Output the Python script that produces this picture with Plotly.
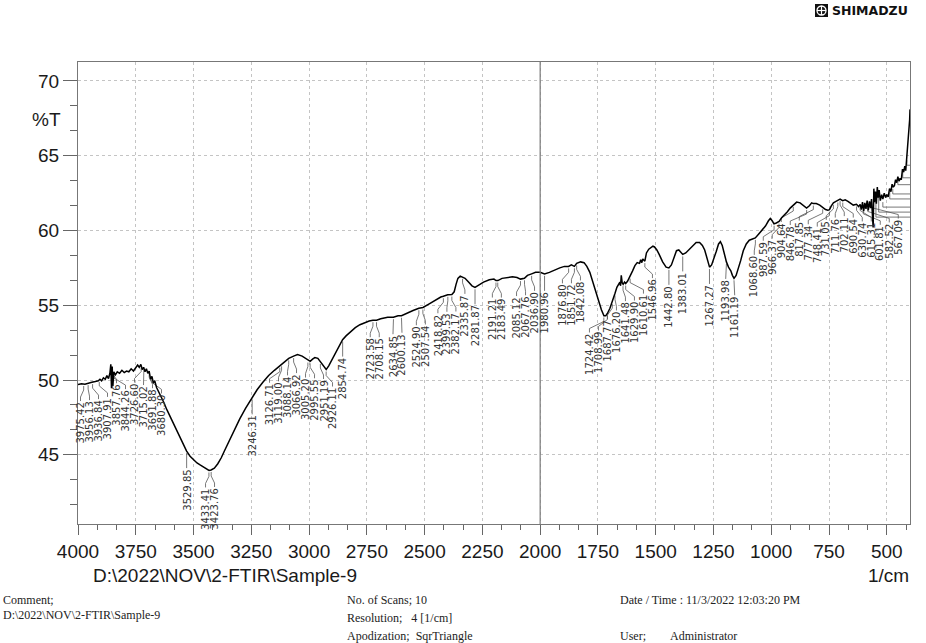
import numpy as np
import plotly.graph_objects as go

# ------------------------------------------------------------------ data
wavenumber = [
    4000, 3985, 3970, 3955, 3940, 3925, 3912, 3905, 3898, 3890,
    3882, 3875, 3868, 3862, 3858, 3855, 3852, 3849, 3845, 3838,
    3830, 3820, 3810, 3800, 3790, 3780, 3770, 3760, 3750, 3742,
    3735, 3728, 3722, 3716, 3710, 3704, 3698, 3692, 3686, 3680,
    3674, 3668, 3660,
    3650, 3640, 3630, 3615, 3600, 3585, 3570, 3555, 3540, 3530,
    3515, 3500, 3485, 3470, 3455, 3440, 3433, 3424, 3410, 3395,
    3380, 3365, 3350, 3330, 3300, 3275, 3250, 3225, 3200, 3175,
    3150, 3127, 3119, 3100, 3088, 3067, 3050,
    3030, 3015, 3005, 2995, 2985, 2975, 2962, 2951, 2940, 2926,
    2915, 2900, 2885, 2870, 2855, 2840, 2820, 2800, 2780, 2760,
    2740, 2724, 2708, 2690, 2660, 2635, 2615, 2600, 2575, 2550,
    2525, 2507, 2480, 2455, 2430, 2419, 2400, 2382, 2372, 2364,
    2356, 2346, 2336, 2325, 2310, 2295, 2282, 2265, 2245, 2220,
    2200, 2191, 2183, 2165, 2145, 2120, 2100, 2085, 2068, 2055,
    2037, 2020, 2000,
    1981, 1960, 1940, 1915, 1895, 1877, 1865, 1852, 1842, 1825,
    1810, 1798, 1785, 1772, 1758, 1745, 1735, 1724, 1716, 1709,
    1698, 1688, 1676, 1668, 1660, 1655, 1652, 1649, 1645, 1641,
    1635, 1630, 1622, 1611, 1600, 1590, 1580, 1570, 1565, 1560,
    1556, 1547, 1540, 1530, 1520, 1512, 1505, 1495, 1485, 1470,
    1455, 1443, 1432, 1422, 1410, 1400, 1390, 1383, 1370, 1355,
    1340, 1325, 1310, 1298, 1288, 1278, 1267, 1258, 1248, 1238,
    1228, 1220, 1212, 1204, 1194, 1185, 1175, 1168, 1161, 1152,
    1143, 1132, 1121, 1108, 1095, 1080, 1069,
    1055, 1040, 1025, 1012, 1004, 996, 988, 978, 966, 955,
    942, 930, 918, 905, 890, 875, 860, 847, 835, 825,
    818, 805, 790, 777, 765, 755, 748, 740, 731, 720,
    712, 702, 691, 680, 668, 655, 645, 631, 622,
    615, 610, 605, 600, 595, 590, 585, 580, 575, 570,
    566, 562, 559, 556, 553, 549, 545, 541, 537, 533,
    528, 522, 517, 511, 505, 500, 494, 488, 482, 477,
    472, 467, 462, 457, 452, 447, 442, 437, 432, 427,
    422, 418, 414, 410, 407, 404, 401, 399.5,
]
transmittance = [
    49.70, 49.75, 49.72, 49.80, 49.85, 49.90, 49.95, 50.05, 49.95, 50.15,
    50.05, 50.30, 50.10, 50.45, 51.05, 49.45, 50.90, 49.60, 50.55, 50.35,
    50.55, 50.45, 50.65, 50.50, 50.60, 50.55, 50.75, 50.60, 50.80, 51.00,
    50.85, 51.05, 50.70, 50.85, 50.55, 50.75, 50.45, 50.60, 50.05, 50.25,
    49.80, 49.95, 49.50,
    49.20, 48.90, 48.55, 48.00, 47.50, 47.00, 46.50, 46.00, 45.55, 45.25,
    44.90, 44.65, 44.45, 44.30, 44.15, 44.00, 43.95, 43.98, 44.10, 44.40,
    44.80, 45.30, 45.80, 46.50, 47.40, 48.10, 48.75, 49.35, 49.85, 50.30,
    50.65, 50.95, 51.05, 51.30, 51.45, 51.60, 51.70,
    51.60, 51.45, 51.30, 51.25, 51.40, 51.50, 51.45, 51.20, 50.95, 50.70,
    50.95, 51.40, 51.90, 52.35, 52.70, 52.95, 53.25, 53.50, 53.70, 53.85,
    53.95, 54.00, 54.00, 54.10, 54.20, 54.20, 54.30, 54.30, 54.50, 54.65,
    54.80, 54.85, 55.10, 55.35, 55.55, 55.60, 55.70, 55.72, 55.90, 56.40,
    56.80, 56.95, 56.90, 56.80, 56.55, 56.30, 56.20, 56.35, 56.55, 56.70,
    56.75, 56.65, 56.65, 56.80, 56.85, 56.90, 56.85, 56.75, 56.80, 57.00,
    57.10, 57.20, 57.20,
    57.10, 57.20, 57.35, 57.50, 57.60, 57.60, 57.70, 57.60, 57.80, 57.90,
    57.85, 57.60, 57.20, 56.60, 55.80, 55.20, 54.70, 54.30, 54.30, 54.45,
    54.80, 55.20, 55.80, 56.20, 56.40, 56.55, 56.30, 57.00, 56.50, 56.40,
    56.55, 56.45, 56.60, 56.90, 57.30, 57.65, 57.85, 57.80, 58.05, 57.85,
    58.10, 57.95, 58.50, 58.75, 58.90, 58.95, 58.90, 58.70, 58.40, 57.90,
    57.55, 57.50, 57.70, 58.20, 58.65, 58.70, 58.55, 58.40, 58.50, 58.75,
    59.00, 59.20, 59.20, 59.00, 58.70, 58.10, 57.55, 57.70, 58.10, 58.60,
    59.10, 59.25, 59.00, 58.50, 57.90, 57.55, 57.30, 57.00, 56.80, 57.00,
    57.40, 58.00, 58.65, 59.10, 59.35, 59.45, 59.50,
    59.75, 60.00, 60.30, 60.65, 60.80, 60.65, 60.45, 60.50, 60.60, 60.85,
    61.05, 61.25, 61.50, 61.70, 61.90, 61.85, 61.65, 61.50, 61.65, 61.85,
    61.80, 61.80, 61.70, 61.55, 61.40, 61.35, 61.40, 61.65, 61.85, 61.95,
    62.00, 62.10, 62.00, 62.05, 61.95, 61.80, 61.70, 61.75, 61.60,
    61.75, 61.40, 61.90, 61.30, 61.85, 61.45, 62.00, 61.35, 61.95, 61.50,
    62.10, 61.20, 60.20, 62.80, 61.90, 62.60, 61.80, 62.90, 62.20, 62.70,
    62.00, 62.40, 62.10, 62.50, 62.20, 62.40, 62.25, 62.80, 62.60, 63.10,
    62.90, 63.00, 63.40, 63.20, 63.60, 63.30, 63.50, 63.40, 64.10, 63.90,
    64.30, 64.00, 64.80, 65.20, 65.80, 66.50, 67.40, 68.10,
]

peak_wavenumbers = [
    3975.42, 3956.13, 3936.84, 3907.91, 3857.76, 3844.26, 3726.60, 3715.02,
    3691.88, 3680.30, 3529.85, 3433.41, 3423.76, 3246.31, 3126.71, 3119.00,
    3088.14, 3066.92, 3005.20, 2995.55, 2951.19, 2926.11, 2854.74, 2723.58,
    2708.15, 2634.85, 2600.13, 2524.90, 2507.54, 2418.82, 2399.53, 2382.17,
    2335.87, 2281.87, 2191.21, 2183.49, 2085.12, 2067.76, 2036.90, 1980.96,
    1876.80, 1851.72, 1842.08, 1724.42, 1708.99, 1687.77, 1676.20, 1641.48,
    1629.90, 1610.61, 1546.96, 1442.80, 1383.01, 1267.27, 1193.98, 1161.19,
    1068.60, 987.59, 966.37, 904.64, 846.78, 817.85, 777.34, 748.41,
    731.05, 711.76, 702.11, 690.54, 630.74, 615.31, 601.81, 582.52, 567.09,
]
# peaks whose labels fall beyond the right edge of the plot
offscale_peak_wavenumbers = [547.0, 535.0, 517.0, 487.0, 474.0, 452.0, 431.0, 413.0]

x_tick_step = 250
y_tick_step = 5

x_axis_title = r"D:\2022\NOV\2-FTIR\Sample-9"
x_unit = "1/cm"
y_unit = "%T"
footer_left = ["Comment;", r"D:\2022\NOV\2-FTIR\Sample-9"]
footer_mid = ["No. of Scans; 10", "Resolution;&nbsp;&nbsp;&nbsp;4 [1/cm]",
              "Apodization;&nbsp;&nbsp;SqrTriangle"]
footer_right = ["Date / Time : 11/3/2022 12:03:20 PM",
                "User;&nbsp;&nbsp;&nbsp;&nbsp;&nbsp;&nbsp;&nbsp;&nbsp;Administrator"]
brand = "SHIMADZU"

# ------------------------------------------------------------------ geometry
W, H = 926, 643
ML, MR, MT, MB = 78, 16, 62, 119
PW, PH = W - ML - MR, H - MT - MB
X0, X1 = 4000.0, 399.5
Y0, Y1 = 40.37, 71.27


def wx_to_px(w):
    return ML + (X0 - w) / (X0 - X1) * PW


def px_to_wx(p):
    return X0 - (p - ML) / PW * (X0 - X1)


def t_to_py(t):
    return MT + (Y1 - t) / (Y1 - Y0) * PH


def py_to_t(p):
    return Y1 - (p - MT) / PH * (Y1 - Y0)


def paper_x(p):
    return (p - ML) / PW


def paper_y(p):
    return (H - MB - p) / PH


wn_arr = np.array(wavenumber, dtype=float)
t_arr = np.array(transmittance, dtype=float)


def curve_at(w):
    return float(np.interp(w, wn_arr[::-1], t_arr[::-1]))


def spread(targets, gap, lo, hi):
    clusters = [[t] for t in targets]

    def start_of(c):
        n = len(c)
        s = float(np.mean(c)) - (n - 1) / 2 * gap
        return min(max(s, lo), hi - (n - 1) * gap)

    changed = True
    while changed:
        changed = False
        i = 0
        while i < len(clusters) - 1:
            a, b = clusters[i], clusters[i + 1]
            if start_of(a) + len(a) * gap > start_of(b) + 1e-9:
                clusters[i] = a + b
                del clusters[i + 1]
                changed = True
            else:
                i += 1
    out = []
    for c in clusters:
        s = start_of(c)
        out += [s + k * gap for k in range(len(c))]
    return out


# ------------------------------------------------------------------ figure
fig = go.Figure()

# peak label leaders
peak_px = [wx_to_px(w) for w in peak_wavenumbers]
label_px = spread(peak_px, 9.0, 80.5, 905)
lx, ly = [], []
annotations = []
for w, xp, xl in zip(peak_wavenumbers, peak_px, label_px):
    yc = t_to_py(curve_at(w))
    pts = [(xp, yc + 2), (xp, yc + 6), (xl, yc + 13), (xl, yc + 17)]
    for px_, py_ in pts:
        lx.append(px_to_wx(px_))
        ly.append(py_to_t(py_))
    lx.append(None)
    ly.append(None)
    annotations.append(dict(
        x=px_to_wx(xl), y=py_to_t(yc + 17.5), xref="x", yref="y",
        text=f"{w:.2f}", showarrow=False, textangle=-90,
        xanchor="center", yanchor="top", borderpad=0,
        font=dict(family="DejaVu Sans, Liberation Sans", size=10, color="#333333"),
    ))

# leaders of peaks whose labels are outside the plot (nested brackets)
prev_level = -1e9
for w in offscale_peak_wavenumbers[::-1]:
    xp = wx_to_px(w)
    yc = t_to_py(curve_at(w))
    level = max(yc + 8, prev_level + 5)
    prev_level = level
    for px_, py_ in [(xp, yc + 3), (xp, level), (W, level)]:
        lx.append(px_to_wx(px_))
        ly.append(py_to_t(py_))
    lx.append(None)
    ly.append(None)

fig.add_trace(go.Scatter(
    x=lx, y=ly, mode="lines", line=dict(color="#555555", width=0.8),
    hoverinfo="skip", showlegend=False,
))

fig.add_trace(go.Scatter(
    x=wavenumber, y=transmittance, mode="lines",
    line=dict(color="#000000", width=1.5), hoverinfo="skip", showlegend=False,
))

axis_font = dict(family="Liberation Sans, Arial", size=19, color="#1a1a1a")

fig.update_xaxes(
    range=[X0, X1], tickmode="linear", tick0=0, dtick=x_tick_step,
    ticks="outside", ticklen=10, tickwidth=1, tickcolor="#666666",
    showline=True, linecolor="#777777", linewidth=1, mirror=True,
    showgrid=True, gridcolor="#c4c4c4", griddash="dot", gridwidth=1,
    zeroline=False, tickfont=axis_font,
    minor=dict(tick0=X0, dtick=x_tick_step / 3, ticks="outside", ticklen=5,
               tickcolor="#666666", showgrid=False),
)
fig.update_yaxes(
    range=[Y0, Y1], tickmode="linear", tick0=0, dtick=y_tick_step,
    ticks="outside", ticklen=14, tickwidth=1, tickcolor="#666666",
    showline=True, linecolor="#777777", linewidth=1, mirror=True,
    showgrid=True, gridcolor="#c4c4c4", griddash="dot", gridwidth=1,
    zeroline=False, tickfont=axis_font,
    minor=dict(tick0=40, dtick=y_tick_step / 3, ticks="outside", ticklen=7,
               tickcolor="#666666", showgrid=False),
)

shapes = [
    dict(type="line", xref="x", yref="paper", x0=2000, x1=2000, y0=0, y1=1,
         line=dict(color="#7a7a7a", width=1.2)),
    # brand logo box
    dict(type="rect", xref="paper", yref="paper",
         x0=paper_x(815), x1=paper_x(828), y0=paper_y(17), y1=paper_y(4),
         fillcolor="#111111", line=dict(width=0)),
    dict(type="circle", xref="paper", yref="paper",
         x0=paper_x(817), x1=paper_x(826), y0=paper_y(15), y1=paper_y(6),
         line=dict(color="#ffffff", width=1.3)),
    dict(type="line", xref="paper", yref="paper",
         x0=paper_x(821.5), x1=paper_x(821.5), y0=paper_y(15), y1=paper_y(6),
         line=dict(color="#ffffff", width=1.2)),
    dict(type="line", xref="paper", yref="paper",
         x0=paper_x(817), x1=paper_x(826), y0=paper_y(10.5), y1=paper_y(10.5),
         line=dict(color="#ffffff", width=1.2)),
]


def ptext(text, px_, py_, xanchor="left", size=19, family="Liberation Sans, Arial",
          color="#1a1a1a"):
    return dict(x=paper_x(px_), y=paper_y(py_), xref="paper", yref="paper",
                text=text, showarrow=False, xanchor=xanchor, yanchor="middle",
                font=dict(family=family, size=size, color=color))


annotations.append(ptext(y_unit, 46, 119, xanchor="center"))
annotations.append(ptext(x_axis_title, 91, 575))
annotations.append(ptext(x_unit, 911, 575, xanchor="right"))
annotations.append(ptext(f"<b>{brand}</b>", 830, 11, size=12.5,
                         family="DejaVu Sans, Arial", color="#111111"))

serif = "Liberation Serif, Times New Roman"
fs = 12
for i, t in enumerate(footer_left):
    annotations.append(ptext(t, 1, 600 + i * 15, size=fs, family=serif, color="#222222"))
for i, t in enumerate(footer_mid):
    annotations.append(ptext(t, 345, 600 + i * 18, size=fs, family=serif, color="#222222"))
annotations.append(ptext(footer_right[0], 618, 600, size=fs, family=serif, color="#222222"))
annotations.append(ptext(footer_right[1], 618, 636, size=fs, family=serif, color="#222222"))

fig.update_layout(
    width=W, height=H, autosize=False,
    margin=dict(l=ML, r=MR, t=MT, b=MB, pad=0),
    paper_bgcolor="#ffffff", plot_bgcolor="#ffffff",
    showlegend=False, shapes=shapes, annotations=annotations,
)

fig.write_html("out.html", config={"displayModeBar": False})
